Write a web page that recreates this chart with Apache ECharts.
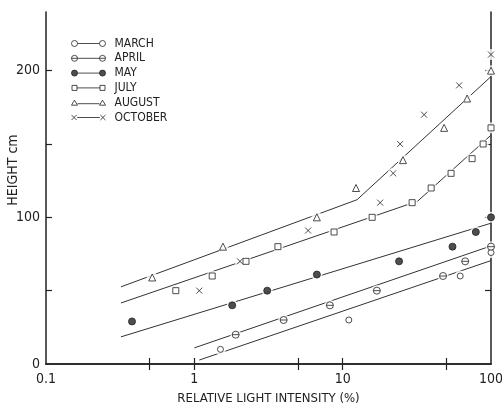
<!DOCTYPE html>
<html>
<head>
<meta charset="utf-8">
<script src="https://cdn.jsdelivr.net/npm/echarts@6/dist/echarts.min.js"></script>
<style>
html,body{margin:0;padding:0;background:#fff;}
#main{width:502px;height:404px;}
</style>
</head>
<body>
<div id="main"></div>
<script>
// 坐标轴刻度
var xTicks = [0.5, 1, 5, 10, 50];
var xLabels = [0.1, 1, 10, 100];
var yTicks = [50, 100, 150, 200];
var yLabels = [0, 100, 200];

// 各月观测点 [相对光强 %, 高度 cm]
var march = [[1.5,10],[11,30],[62,60],[100,76]];
var april = [[1.9,20],[4,30],[8.2,40],[17,50],[47.5,60],[67,70],[100,80]];
var may = [[0.38,29],[1.8,40],[3.1,50],[6.7,61],[24,70],[55,80],[79,90],[100,100]];
var july = [[0.75,50],[1.32,60],[2.23,70],[3.66,80],[8.75,90],[15.8,100],[29.4,110],[39.5,120],[53.8,130],[74.6,140],[88.5,150],[100,161]];
var august = [[0.52,59],[1.56,80],[6.7,100],[12.3,120],[25.5,139],[48.3,161],[69,181],[100,200]];
var october = [[1.08,50],[2.03,70],[5.85,91],[17.9,110],[21.9,130],[24.4,150],[35.4,170],[61,190],[100,211]];

// 回归线
var marchFit = [[1.08,2.7],[100,70.5]];
var aprilFit = [[1,11],[100,80.5]];
var mayFit = [[0.32,18.5],[100,96]];
var julyFit = [[0.32,41.6],[32,111],[100,156]];
var augustFit = [[0.32,52.6],[12.5,112],[100,196]];

var FONT = "'Liberation Sans Narrow','DejaVu Sans Condensed',sans-serif";
var INK = '#222';

// 图例图标: 两端符号 + 中间线
var circlePair = 'path://M0,3 A3,3 0 1,1 6,3 A3,3 0 1,1 0,3 Z M6,3 L28,3 M28,3 A3,3 0 1,1 34,3 A3,3 0 1,1 28,3 Z';
var thetaPair = 'path://M0,3 A3,3 0 1,1 6,3 A3,3 0 1,1 0,3 Z M0,3 L34,3 M28,3 A3,3 0 1,1 34,3 A3,3 0 1,1 28,3 Z';
var rectPair = 'path://M0.5,0.5 L5.5,0.5 L5.5,5.5 L0.5,5.5 Z M5.5,3 L28.5,3 M28.5,0.5 L33.5,0.5 L33.5,5.5 L28.5,5.5 Z M0,0 M34,6';
var triPair = 'path://M3,0.5 L6,5.5 L0,5.5 Z M6,4 L28,4 M31,0.5 L34,5.5 L28,5.5 Z M0,0 M34,6';
var crossPair = 'path://M0.5,0.5 L5.5,5.5 M0.5,5.5 L5.5,0.5 M6,3 L28,3 M28.5,0.5 L33.5,5.5 M28.5,5.5 L33.5,0.5';

var openStyle = {color:'#fff', borderColor:INK, borderWidth:1};
var solidStyle = {color:INK, borderColor:INK, borderWidth:1};
var crossStyle = {color:'rgba(0,0,0,0)', borderColor:INK, borderWidth:1};

function pointSeries(name, data, symbol, size, style){
	return {
		name: name, type: 'scatter', data: data, z: 4,
		symbol: symbol, symbolSize: size,
		itemStyle: style
	};
}

function fitSeries(name, data){
	return {
		name: name, type: 'line', data: data, z: 2,
		symbol: 'none', silent: true,
		lineStyle: {color:'#333', width:1}
	};
}

var allPoints = [].concat(march, april, may, july, august, october);

var lineSet = {show:true, lineStyle:{color:INK, width:1.5}};

var option = {
	animation: false,
	backgroundColor: '#fff',
	grid: {left:46, right:11, top:12, bottom:40, outerBoundsMode:'none', containLabel:false},
	legend: {
		orient: 'vertical', left: 66, top: 32,
		itemWidth: 34, itemHeight: 6, itemGap: 1.8,
		textStyle: {fontFamily:FONT, fontSize:12, lineHeight:13, color:INK, padding:[0,0,0,4]},
		data: [
			{name:'MARCH', icon:circlePair, itemStyle:openStyle},
			{name:'APRIL', icon:thetaPair, itemStyle:openStyle},
			{name:'MAY', icon:circlePair, itemStyle:solidStyle},
			{name:'JULY', icon:rectPair, itemStyle:openStyle},
			{name:'AUGUST', icon:triPair, itemStyle:openStyle},
			{name:'OCTOBER', icon:crossPair, itemStyle:crossStyle}
		]
	},
	xAxis: [{
		type: 'log', logBase: 10, min: 0.1, max: 100,
		name: 'RELATIVE LIGHT INTENSITY (%)', nameLocation: 'middle', nameGap: 28,
		nameTextStyle: {fontFamily:FONT, fontSize:13, color:INK},
		axisLine: lineSet,
		axisTick: {show:true, inside:true, length:6, lineStyle:{color:INK, width:1.2}, customValues:xTicks},
		axisLabel: {fontFamily:FONT, fontSize:14, color:INK, margin:8, customValues:xLabels},
		splitLine: {show:false}
	},{
		type: 'log', logBase: 10, min: 0.1, max: 100, position: 'top',
		axisLine: lineSet,
		axisTick: {show:true, inside:true, length:6, lineStyle:{color:INK, width:1.2}, customValues:xTicks},
		axisLabel: {show:false},
		splitLine: {show:false}
	}],
	yAxis: [{
		type: 'value', min: 0, max: 240, interval: 50,
		axisLine: lineSet,
		axisTick: {show:true, inside:true, length:6, lineStyle:{color:INK, width:1.2}, customValues:yTicks},
		axisLabel: {fontFamily:FONT, fontSize:14, color:INK, margin:6, customValues:yLabels},
		splitLine: {show:false}
	},{
		type: 'value', min: 0, max: 240, interval: 50, position: 'right',
		axisLine: lineSet,
		axisTick: {show:true, inside:true, length:6, lineStyle:{color:INK, width:1.2}, customValues:yTicks},
		axisLabel: {show:false},
		splitLine: {show:false}
	}],
	graphic: [{
		type: 'text', x: 13, y: 170, rotation: Math.PI/2,
		style: {text:'HEIGHT cm', fontFamily:FONT, fontSize:14, fill:INK, align:'center', verticalAlign:'middle'}
	}],
	series: [
		fitSeries('MARCH fit', marchFit),
		fitSeries('APRIL fit', aprilFit),
		fitSeries('MAY fit', mayFit),
		fitSeries('JULY fit', julyFit),
		fitSeries('AUGUST fit', augustFit),
		// 符号周围的白色空隙
		{name:'gap', type:'scatter', data:allPoints, z:3, silent:true,
			symbol:'circle', symbolSize:11, itemStyle:{color:'#fff'}},
		pointSeries('MARCH', march, 'circle', 6, openStyle),
		pointSeries('APRIL', april, 'path://M0,5 A5,5 0 1,1 10,5 A5,5 0 1,1 0,5 Z M0,5 L10,5', 7, openStyle),
		pointSeries('MAY', may, 'circle', 7, solidStyle),
		pointSeries('JULY', july, 'rect', 6, openStyle),
		pointSeries('AUGUST', august, 'triangle', 7, openStyle),
		pointSeries('OCTOBER', october, 'path://M0,0 L10,10 M0,10 L10,0', 6, crossStyle)
	]
};

var myChart = echarts.init(document.getElementById('main'));
myChart.setOption(option);
</script>
</body>
</html>
